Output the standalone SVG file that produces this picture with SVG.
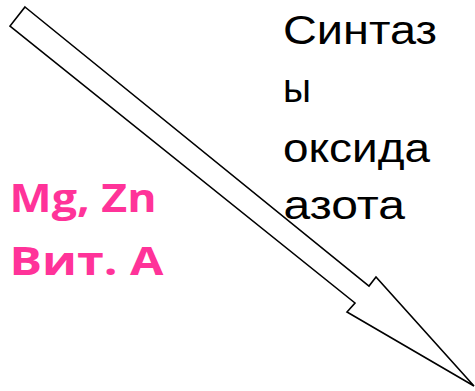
<svg xmlns="http://www.w3.org/2000/svg" width="475" height="391" viewBox="0 0 475 391">
<style>
.lbl{font-family:"Liberation Sans",Arial,sans-serif;font-size:41px;fill:#000}
.pink{font-family:"Open Sans","Noto Sans",sans-serif;font-weight:bold;font-size:40px;fill:#FF3399}
</style>
<rect width="475" height="391" fill="#fff"/>
<g id="connectors">
<path id="arrow" d="M25,7 L369,286 L376,277 L474,386 L347,312 L355,303 L10,26 Z" fill="#fff" stroke="#000" stroke-width="1.6" stroke-linejoin="miter"/>
</g>
<g id="label-synthase">
<text class="lbl" x="283" y="43.5" textLength="154" lengthAdjust="spacingAndGlyphs">Синтаз</text>
<text class="lbl" x="283" y="102" textLength="28" lengthAdjust="spacingAndGlyphs">ы</text>
<text class="lbl" x="283" y="161.5" textLength="147" lengthAdjust="spacingAndGlyphs">оксида</text>
<text class="lbl" x="283.5" y="219" textLength="121.5" lengthAdjust="spacingAndGlyphs">азота</text>
</g>
<g id="label-cofactors">
<text class="pink" x="9.5" y="212" textLength="147" lengthAdjust="spacingAndGlyphs">Mg, Zn</text>
<text class="pink" x="9.5" y="275" textLength="154" lengthAdjust="spacingAndGlyphs">Вит. А</text>
</g>
</svg>
